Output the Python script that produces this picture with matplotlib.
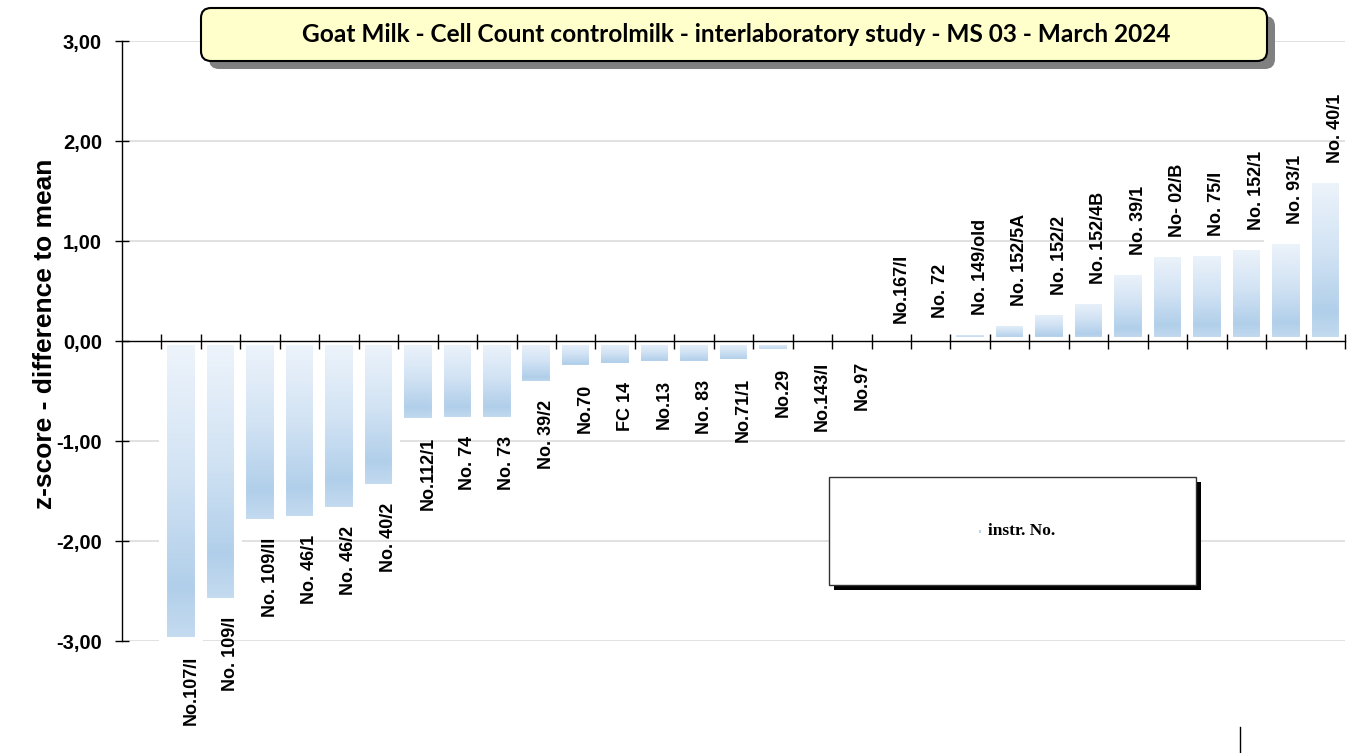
import numpy as np
import matplotlib
matplotlib.use('Agg')
import matplotlib.pyplot as plt
from matplotlib.colors import LinearSegmentedColormap
from matplotlib.patches import FancyBboxPatch, Rectangle
from matplotlib.lines import Line2D

# instrument labels and z-scores
labels = ['No.107/I', 'No. 109/I', 'No. 109/II', 'No. 46/1', 'No. 46/2', 'No. 40/2',
          'No.112/1', 'No. 74', 'No. 73', 'No. 39/2', 'No.70', 'FC 14', 'No.13',
          'No. 83', 'No.71/1', 'No.29', 'No.143/I', 'No.97', 'No.167/I', 'No. 72',
          'No. 149/old', 'No. 152/5A', 'No. 152/2', 'No. 152/4B', 'No. 39/1',
          'No- 02/B', 'No. 75/I', 'No. 152/1', 'No. 93/1', 'No. 40/1']
zscores = [-3.00, -2.61, -1.82, -1.79, -1.70, -1.47, -0.81, -0.80, -0.80, -0.44,
           -0.28, -0.26, -0.24, -0.24, -0.22, -0.12, -0.06, -0.05, 0.02, 0.07,
           0.10, 0.19, 0.30, 0.41, 0.70, 0.88, 0.89, 0.95, 1.01, 1.62]
yticks = [-3, -2, -1, 0, 1, 2, 3]
ytick_labels = ['-3,00', '-2,00', '-1,00', '0,00', '1,00', '2,00', '3,00']
title = 'Goat Milk - Cell Count controlmilk - interlaboratory study - MS 03 - March 2024'
ylab = 'z-score - difference to mean'
legend_text = 'instr. No.'

plt.rcParams['font.family'] = ['Liberation Sans', 'DejaVu Sans']

W, H = 13.57, 7.53
fig = plt.figure(figsize=(W, H), dpi=100)
ax = fig.add_axes([122/1357, 1-641/753, 1223/1357, 600/753])

x = np.arange(1, len(labels) + 1)

# grid lines under everything
ax.hlines([t for t in yticks if t != 0], 0, 1, transform=ax.get_yaxis_transform(),
          color='#d9d9d9', lw=1.1, zorder=1)

# white bars with thick white edge (hide the grid around each bar)
bg = ax.bar(x, zscores, width=0.9, color='white', edgecolor='white', linewidth=5.8, zorder=2)

cmap = LinearSegmentedColormap.from_list(
    'bar', [(0, '#eef4fb'), (0.45, '#d2e3f4'), (0.82, '#b1cfea'), (1, '#c6dcf0')])
grad = np.linspace(0, 1, 256).reshape(-1, 1)
for p in bg.patches:
    x0, w = p.get_x(), p.get_width()
    y0, h = p.get_y(), p.get_height()
    lo, hi = min(y0, y0 + h), max(y0, y0 + h)
    im = ax.imshow(grad, cmap=cmap, extent=[x0, x0 + w, lo, hi], aspect='auto',
                   origin='upper', interpolation='bilinear', zorder=3)
    im.set_clip_path(p)
ax.bar(x, zscores, width=0.9, facecolor='none', edgecolor='white', linewidth=5.8, zorder=4)

# data labels
for xi, v, name in zip(x, zscores, labels):
    if v < 0:
        off, va = -15, 'top'
    else:
        off, va = 16, 'bottom'
    ax.annotate(name, (xi, v), xytext=(10, off), textcoords='offset pixels',
                rotation=90, ha='center', va=va, fontsize=13, fontweight='bold',
                annotation_clip=False, zorder=6)

ax.set_xlim(-0.5, len(labels) + 0.5)
ax.set_ylim(-3, 3)

for s in ['top', 'right']:
    ax.spines[s].set_visible(False)
ax.spines['bottom'].set_position(('data', 0))
ax.spines['bottom'].set_zorder(5)
ax.spines['left'].set_zorder(5)
ax.spines['left'].set_linewidth(1.0)
ax.spines['bottom'].set_linewidth(1.0)
ax.xaxis.set_zorder(5)
ax.yaxis.set_zorder(5)

ax.set_xticks(np.arange(0.5, len(labels) + 1, 1))
ax.tick_params(axis='x', direction='inout', length=10.8, width=1, labelbottom=False)
ax.set_yticks(yticks)
ax.set_yticklabels(ytick_labels, fontsize=14.5, fontweight='bold')
ax.tick_params(axis='y', direction='inout', length=9.4, width=1, pad=9.7)

fig.text(45/1357, 1-334/753, ylab, rotation=90, ha='center', va='center',
         fontsize=19, fontweight='bold')

# title box with shadow
tr = fig.dpi_scale_trans
fig.add_artist(FancyBboxPatch((2.09, H - 0.69), 10.66, 0.53,
                              boxstyle='round,pad=0,rounding_size=0.1',
                              transform=tr, fc='#808080', ec='none'))
fig.add_artist(FancyBboxPatch((2.01, H - 0.61), 10.66, 0.53,
                              boxstyle='round,pad=0,rounding_size=0.1',
                              transform=tr, fc='#ffffcc', ec='black', lw=1.5))
t = fig.text(7.36, H - 0.345, title, transform=tr, ha='center', va='center',
             fontsize=16, fontweight='bold', family=['Lato', 'DejaVu Sans'])
fig.canvas.draw()
tw = t.get_window_extent().width
t.set_fontsize(16 * 868 / tw)

# legend box with shadow
fig.add_artist(Rectangle((8.34, H - 5.90), 3.67, 1.08, transform=tr, fc='black', ec='none'))
fig.add_artist(Rectangle((8.29, H - 5.85), 3.67, 1.08, transform=tr, fc='white',
                         ec='#333333', lw=1))
fig.add_artist(Rectangle((9.785, H - 5.325), 0.03, 0.03, transform=tr, fc='#b8d4ee', ec='none'))
fig.text(10.22, H - 5.31, legend_text, transform=tr, ha='center', va='center',
         fontsize=12.5, fontweight='bold', family=['Liberation Serif'])

fig.add_artist(Line2D([12.40, 12.40], [0, 0.26], transform=tr, color='black', lw=1))

fig.savefig('out.png', dpi=100)
